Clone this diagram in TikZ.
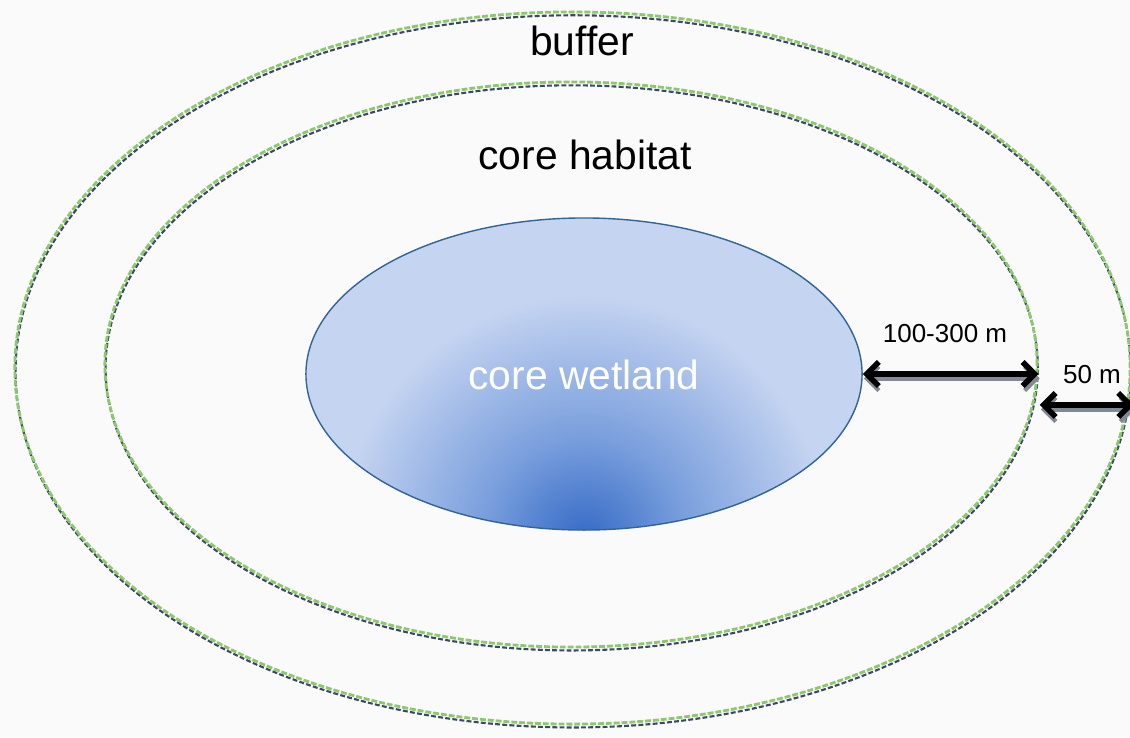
\documentclass[tikz,border=0pt]{standalone}
\usepackage{fontspec}
\setmainfont{Liberation Sans}
\usetikzlibrary{shapes.geometric,arrows.meta}
\definecolor{bg}{RGB}{250,250,250}
\definecolor{zgreen}{RGB}{140,200,110}
\definecolor{zdark}{RGB}{60,72,100}
\definecolor{wetborder}{RGB}{50,100,150}
\definecolor{wetlight}{RGB}{197,212,241}
\definecolor{wetmid}{RGB}{122,159,221}
\definecolor{wetdark}{RGB}{52,106,198}
\definecolor{shgray}{RGB}{130,136,148}
\pgfdeclareradialshading{wetshade}{\pgfpointorigin}{color(0bp)=(wetdark); color(8bp)=(wetmid); color(19bp)=(wetlight); color(50bp)=(wetlight)}
\begin{document}
\begin{tikzpicture}[x=0.025cm,y=-0.025cm,
  zone/.style={ellipse, inner sep=0pt, line width=2pt, draw=zgreen,
    dash pattern=on 4.2pt off 1.4pt,
    preaction={draw=zdark, line width=1.5pt, dash pattern=on 3.5pt off 1.6pt,
      transform canvas={shift={(0.5pt,-2.4pt)}}}},
  wetland/.style={ellipse, inner sep=0pt, line width=1pt, draw=wetborder, fill=wetlight,
    minimum width=13.9cm, minimum height=7.8cm,
    path picture={\shade[shading=wetshade]
      ([yshift=-0.25cm]path picture bounding box.south) circle [radius=8cm];}},
  biglabel/.style={inner sep=0pt, font=\fontsize{29pt}{34pt}\selectfont},
  smalllabel/.style={inner sep=0pt, font=\fontsize{18.5pt}{22pt}\selectfont},
  dimarrow/.style={line width=4pt, {Straight Barb[length=0.3cm,width=0.6cm]}-{Straight Barb[length=0.3cm,width=0.6cm]},
    preaction={draw=shgray, line width=3pt, transform canvas={shift={(0.8pt,-3.2pt)}}}}
]
\useasboundingbox[fill=bg] (0,0) rectangle (1130,737);

\node[zone, minimum width=27.875cm, minimum height=17.8cm] (buffer) at (572.5,368) {};
\node[zone, minimum width=23.3cm, minimum height=14.125cm] (habitat) at (571,364.5) {};
\node[wetland] (wet) at (584,374) {};

\node[biglabel] (tbuffer) at (582,41) {buffer};
\node[biglabel] (thabitat) at (585,155) {core habitat};
\node[biglabel, text=white] (twet) at (584,374.5) {core wetland};
\node[smalllabel] (t100) at (945,333.5) {100-300 m};
\node[smalllabel] (t50) at (1092,375) {50 m};

\draw[dimarrow] (wet.east) -- (wet.east -| habitat.east);
\draw[dimarrow] ([xshift=0.15cm]habitat.-5.3) -- ([xshift=0.15cm]habitat.-5.3 -| buffer.-4.2);
\end{tikzpicture}
\end{document}
